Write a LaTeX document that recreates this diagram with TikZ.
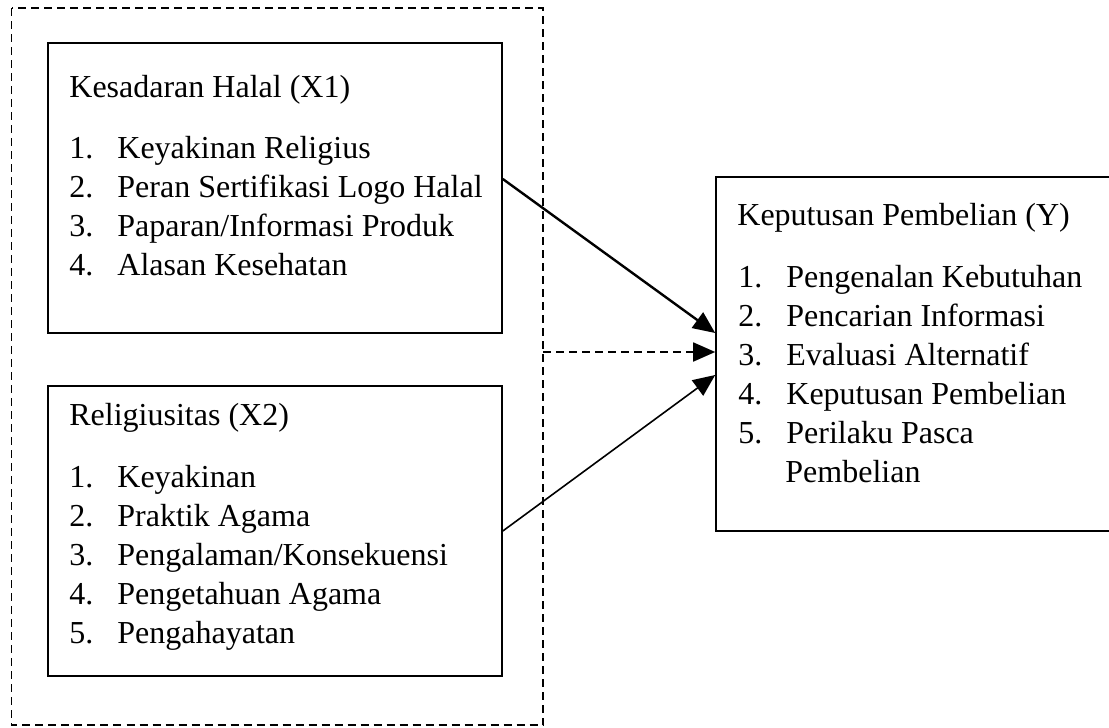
\documentclass[tikz,border=0pt]{standalone}
\usepackage{fontspec}
\setmainfont{Liberation Serif}
\usetikzlibrary{arrows.meta}

\tikzset{
  box/.style={draw, line width=0.8pt, inner sep=0pt},
  txt/.style={anchor=base west, inner sep=0pt, font=\fontsize{16}{19.5}\selectfont},
  dash line/.style={dashed, dash pattern=on 4pt off 2.5pt, line width=0.9pt},
}
\newcommand{\itm}[2]{\makebox[24pt][l]{#1}#2}

\begin{document}
\begin{tikzpicture}[x=0.5pt, y=-0.5pt]
            \useasboundingbox (0,0) rectangle (1109,728);

            \draw[dash line] (11.5,8) rectangle (543,725);
            \coordinate (g) at (543,352);

            \node[box, minimum width=227pt, minimum height=145pt] at (275,188) (x1) {};
            \node[box, minimum width=227pt, minimum height=145pt] at (275,531) (x2) {};
            \node[box, minimum width=198pt, minimum height=177pt] at (914,354) (y) {};

            \node[txt] at (69,97)   (x1t) {Kesadaran Halal (X1)};
            \node[txt] at (69,158)  (x1a) {\itm{1.}{Keyakinan Religius}};
            \node[txt] at (69,197)  (x1b) {\itm{2.}{Peran Sertifikasi Logo Halal}};
            \node[txt] at (69,236)  (x1c) {\itm{3.}{Paparan/Informasi Produk}};
            \node[txt] at (69,275)  (x1d) {\itm{4.}{Alasan Kesehatan}};

            \node[txt] at (69,425)  (x2t) {Religiusitas (X2)};
            \node[txt] at (69,487)  (x2a) {\itm{1.}{Keyakinan}};
            \node[txt] at (69,526)  (x2b) {\itm{2.}{Praktik Agama}};
            \node[txt] at (69,565)  (x2c) {\itm{3.}{Pengalaman/Konsekuensi}};
            \node[txt] at (69,604)  (x2d) {\itm{4.}{Pengetahuan Agama}};
            \node[txt] at (69,643)  (x2e) {\itm{5.}{Pengahayatan}};

            \node[txt] at (737,225) (yt) {Keputusan Pembelian (Y)};
            \node[txt] at (738,287) (ya) {\itm{1.}{Pengenalan Kebutuhan}};
            \node[txt] at (738,326) (yb) {\itm{2.}{Pencarian Informasi}};
            \node[txt] at (738,365) (yc) {\itm{3.}{Evaluasi Alternatif}};
            \node[txt] at (738,404) (yd) {\itm{4.}{Keputusan Pembelian}};
            \node[txt] at (738,443) (ye) {\itm{5.}{Perilaku Pasca}};
            \node[txt] at (785,482) (yf) {Pembelian};

            \draw [-{Triangle[length=11pt, width=9.5pt]}, line width=1.2pt] ([yshift=4.5pt]x1.east) -- ([yshift=10.5pt]y.west);
            \draw [-{Triangle[length=11pt, width=9.5pt]}, dash line] (g) -- (g -| y.west);
            \draw [-{Triangle[length=11pt, width=9.5pt]}, line width=0.8pt] (x2.east) -- ([yshift=-10.5pt]y.west);
        \end{tikzpicture}
\end{document}
